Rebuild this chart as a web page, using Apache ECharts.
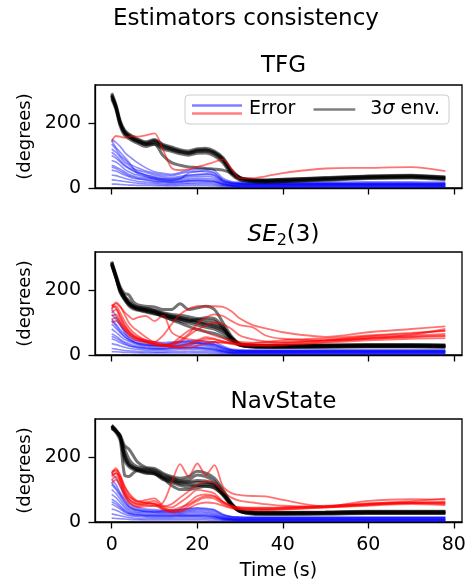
<!DOCTYPE html>
<html>
<head>
<meta charset="utf-8">
<script src="https://cdn.jsdelivr.net/npm/echarts@6/dist/echarts.min.js"></script>
<style>html,body{margin:0;padding:0;background:#fff}#c{width:471px;height:585px}</style>
</head>
<body>
<div id="c"></div>
<script>
// ---- data (time in s, values in degrees) ----
const T = [0,1,2,3,4,5,6,8,10,12,14,16,18,20,22,24,26,28,30,33,36,40,50,60,70,78];
const xTicks = [0,20,40,60,80];
const yTicks = [0,200];
const panelTitles = ['TFG', '{i|SE}{s|2}{n|(3)}', 'NavState'];

// TFG
const tfgEnvelope = [
 [285,250,200,172,160,152,146,136,143,128,120,112,108,115,116,108,88,50,30,24,23,25,30,35,37,32],
 [280,246,196,168,157,149,143,133,140,125,117,110,106,112,113,105,84,46,26,20,19,20,26,31,33,28],
 [292,257,207,178,166,158,152,142,149,134,126,118,114,121,122,114,94,56,33,26,25,27,32,37,39,34],
 [274,241,190,162,152,144,138,128,135,120,113,105,101,107,108,99,78,42,24,19,18,19,24,29,31,26],
 [288,252,202,175,163,155,148,139,146,131,122,114,110,117,118,110,90,52,31,25,24,26,31,36,38,33],
 [283,248,198,170,158,150,144,135,135,100,78,70,65,63,60,58,55,46,32,22,21,22,27,32,34,29]
];
const tfgBlue = [
 [150,140,128,110,98,88,78,62,50,45,42,48,55,58,60,55,30,20,18,17,17,17,18,19,19,18],
 [135,120,100,88,75,68,62,52,45,40,38,44,50,52,50,45,25,17,15,15,15,15,15,16,16,15],
 [120,110,95,80,70,60,55,48,40,35,32,36,40,42,44,40,22,15,14,13,13,13,14,14,14,14],
 [100,92,80,68,60,52,48,40,35,30,28,30,34,35,36,32,18,13,12,12,12,12,12,12,12,12],
 [85,80,70,58,50,44,40,34,30,26,24,26,28,30,30,27,15,11,10,10,10,10,10,10,10,10],
 [70,65,58,50,42,38,34,30,26,22,20,22,24,25,25,22,13,9,9,9,9,9,9,9,9,9],
 [55,52,46,40,35,30,28,24,20,18,16,18,20,21,20,18,11,8,7,7,7,7,8,8,8,7],
 [40,38,34,30,26,23,21,18,16,14,13,14,15,16,16,14,9,7,6,6,6,6,7,7,7,6],
 [25,24,22,20,18,16,15,13,12,10,10,11,12,12,12,10,7,5,5,5,5,5,5,5,5,5],
 [145,125,110,95,80,62,50,40,32,28,26,32,38,40,42,38,20,14,12,11,11,11,12,12,12,11],
 [110,100,85,72,62,55,45,36,28,24,22,28,46,50,54,48,24,16,13,12,12,12,13,13,13,13],
 [12,12,11,10,9,9,8,8,7,7,6,7,7,7,7,6,5,4,4,4,4,4,4,4,4,4],
 [65,60,52,45,38,34,30,26,22,19,18,19,22,23,22,20,12,8,3,3,3,3,3,3,3,3]
];
const tfgRed = [
 [143,160,158,155,158,160,158,162,168,118,62,55,58,65,72,80,88,58,30,30,36,46,60,62,64,52]
];

// SE2(3)
const se2Envelope = [
 [282,241,200,178,160,150,145,140,135,125,118,114,108,102,95,90,78,52,32,28,27,27,28,29,29,28],
 [288,248,210,190,185,165,155,150,148,140,140,158,140,145,150,140,100,58,35,30,29,29,30,31,31,30],
 [278,238,195,172,155,146,140,134,128,118,110,104,98,92,85,80,66,46,30,25,24,24,25,26,26,25],
 [280,240,198,175,158,148,142,136,130,120,108,98,88,78,72,66,56,42,30,26,25,25,26,27,27,26],
 [285,244,202,182,168,154,148,144,138,130,125,122,118,112,108,104,85,54,33,29,28,28,29,30,30,29],
 [276,236,192,170,152,142,138,132,126,122,115,110,104,110,115,112,88,50,31,27,26,26,27,28,28,27],
 [284,243,204,180,163,152,147,142,137,128,121,116,111,106,100,96,82,53,33,31,30,30,31,32,32,31],
 [279,239,198,176,158,148,143,138,132,123,116,111,105,99,92,86,74,50,31,24,23,23,24,25,25,24]
];
const se2Blue = [
 [125,110,90,75,62,55,50,45,40,38,40,42,44,45,42,40,28,18,16,15,15,15,16,16,16,16],
 [110,95,78,65,55,48,44,40,36,34,36,38,40,38,36,33,22,15,14,14,14,14,14,14,14,14],
 [95,82,68,56,48,42,38,34,30,30,32,34,36,35,32,28,18,13,12,12,12,12,12,12,12,12],
 [80,70,58,48,42,36,32,28,26,26,28,30,30,30,28,24,15,11,10,10,10,10,10,10,10,10],
 [65,58,48,40,35,30,27,24,22,22,24,25,26,25,23,20,13,10,9,9,9,9,9,9,9,9],
 [50,45,38,32,28,25,22,20,18,18,20,21,22,21,19,16,11,8,8,8,8,8,8,8,8,8],
 [35,32,28,24,21,19,17,15,14,14,15,16,17,16,15,13,9,7,7,7,7,7,7,7,7,7],
 [20,18,16,14,13,12,11,10,9,9,10,10,11,10,10,9,7,6,6,6,6,6,6,6,6,6],
 [140,120,95,70,52,42,36,32,30,28,26,30,34,36,34,30,20,14,12,11,11,11,12,12,12,12],
 [105,90,72,58,46,40,35,30,28,30,36,40,42,40,38,34,24,16,13,13,13,13,13,13,13,13],
 [10,10,9,8,8,7,7,6,6,6,6,6,6,6,6,5,4,4,4,4,4,4,4,4,4,4],
 [58,52,44,36,30,26,24,21,19,19,21,22,23,22,20,17,11,7,3,3,3,3,3,3,3,3]
];
const se2Red = [
 [140,162,150,125,100,85,75,55,40,60,95,125,142,150,150,150,148,135,112,92,82,70,56,70,80,88],
 [150,158,148,132,120,110,115,120,104,122,70,55,48,45,42,40,38,36,35,36,38,40,46,58,66,74],
 [145,150,130,105,85,70,60,45,35,30,35,55,75,82,70,60,52,45,40,38,40,45,52,60,68,75],
 [130,140,120,95,75,62,55,45,40,35,28,25,30,40,50,48,42,36,32,30,32,36,45,55,60,65],
 [120,125,105,85,70,58,50,42,35,30,25,22,22,28,35,40,38,34,30,28,28,30,40,50,56,60],
 [155,145,115,90,72,60,52,40,32,28,26,28,35,45,55,50,42,38,34,32,30,32,38,45,50,52],
 [110,115,100,80,62,50,44,38,32,28,30,40,60,78,90,100,95,80,60,48,42,38,44,52,62,80],
 [100,105,95,78,65,55,48,40,34,30,32,45,65,95,115,125,120,105,92,85,60,50,45,50,55,58]
];

// NavState
const navEnvelope = [
 [296,282,264,210,182,170,165,160,156,140,132,125,124,128,126,118,90,55,34,29,28,28,29,31,31,31],
 [292,280,268,235,225,205,185,168,165,150,140,135,140,156,150,135,100,58,36,31,30,30,31,33,33,33],
 [290,276,250,145,140,150,158,152,148,135,112,100,100,105,110,105,82,50,33,26,25,25,26,28,28,28],
 [298,284,262,200,175,166,160,155,150,134,125,118,115,112,110,105,84,52,32,27,26,26,27,28,28,28],
 [294,280,258,190,170,162,158,150,148,130,122,112,108,112,116,112,86,54,33,28,27,27,28,29,29,29],
 [288,278,260,225,195,178,170,165,160,146,136,128,130,145,140,125,94,56,35,30,29,29,30,32,32,32],
 [295,281,262,205,178,168,163,158,153,138,129,121,120,122,121,114,88,53,33,24,23,23,24,26,26,26]
];
const navBlue = [
 [150,135,110,85,62,50,45,40,38,36,35,38,40,42,40,36,22,17,16,15,15,15,15,15,15,15],
 [130,115,90,70,52,44,40,36,34,32,32,34,36,38,36,32,20,15,14,13,13,13,13,13,13,13],
 [115,100,80,60,46,40,36,33,30,30,30,31,33,34,32,28,17,13,12,12,12,12,12,12,12,12],
 [100,88,70,52,40,35,32,30,28,27,27,28,30,30,28,24,15,11,10,10,10,10,10,10,10,10],
 [85,75,60,45,35,30,28,26,24,24,24,25,26,26,24,21,13,10,9,9,9,9,9,9,9,9],
 [70,62,50,38,30,26,24,22,21,21,21,22,22,22,21,18,11,9,8,8,8,8,8,8,8,8],
 [55,48,40,30,25,22,20,18,17,17,17,18,18,18,17,15,10,8,7,7,7,7,7,7,7,7],
 [40,36,30,24,20,18,16,15,14,14,14,15,15,15,14,12,8,7,6,6,6,6,6,6,6,6],
 [25,22,19,16,14,12,11,10,10,10,10,10,10,10,10,9,6,5,5,5,5,5,5,5,5,5],
 [12,11,10,9,8,7,7,6,6,6,6,6,6,6,6,5,4,4,4,4,4,4,4,4,4,4],
 [120,105,85,64,48,40,36,32,32,34,36,38,42,44,42,38,24,16,14,14,14,14,14,14,14,14],
 [62,55,45,34,27,24,22,20,19,19,19,20,20,20,19,16,10,7,3,3,3,3,3,3,3,3]
];
const navRed = [
 [150,158,125,90,70,60,56,52,50,60,120,178,140,180,145,175,110,89,83,80,79,68,48,65,70,69],
 [151,166,140,100,79,70,63,68,73,50,45,60,79,99,95,88,63,50,45,44,44,45,50,58,60,60],
 [140,150,130,95,72,62,55,60,65,45,35,40,60,80,85,80,60,48,42,40,40,42,48,55,60,62],
 [130,140,120,85,65,55,50,55,58,40,32,35,50,65,75,72,55,45,40,38,38,40,45,52,58,55],
 [120,130,110,78,58,50,46,48,50,38,30,32,42,55,60,58,50,42,38,37,37,38,44,50,55,52],
 [145,150,138,110,90,75,65,60,55,48,55,75,95,115,125,120,95,75,65,60,55,50,46,56,64,72],
 [155,160,145,110,85,70,62,58,55,42,38,45,55,70,80,78,62,50,45,43,43,44,48,54,58,58]
];

// ---- chart ----
const FONT = 'DejaVu Sans';
const panels = [
  {env: tfgEnvelope, blue: tfgBlue, red: tfgRed},
  {env: se2Envelope, blue: se2Blue, red: se2Red},
  {env: navEnvelope, blue: navBlue, red: navRed}
];
const gridTops = [85, 252, 419];
const GH = 103;

const pairs = v => T.map((t, i) => [t, v[i]]);
const series = [];
panels.forEach((p, k) => {
  p.blue.forEach((v, j) => series.push({
    type: 'line', name: (k === 0 && j === 0) ? 'Error' : undefined,
    xAxisIndex: k, yAxisIndex: k, data: pairs(v), symbol: 'none', smooth: 0.15,
    lineStyle: {color: '#0000ff', width: 1.6, opacity: 0.45}, z: 2, silent: true, animation: false
  }));
  p.env.forEach((v, j) => series.push({
    type: 'line', name: (k === 0 && j === 0) ? '3σ env.' : undefined,
    xAxisIndex: k, yAxisIndex: k, data: pairs(v), symbol: 'none', smooth: 0.3,
    lineStyle: {color: '#000000', width: 3, opacity: 0.55}, z: 3, silent: true, animation: false
  }));
  p.red.forEach(v => series.push({
    type: 'line', xAxisIndex: k, yAxisIndex: k, data: pairs(v), symbol: 'none', smooth: 0.3,
    lineStyle: {color: '#ff0000', width: 1.8, opacity: 0.55}, z: 4, silent: true, animation: false
  }));
});

const svgIcon = s => 'image://data:image/svg+xml;charset=utf-8,' + encodeURIComponent(s);
const errIcon = svgIcon('<svg xmlns="http://www.w3.org/2000/svg" width="52" height="14">' +
  '<line x1="0" y1="3" x2="50" y2="3" stroke="#0000ff" stroke-opacity="0.5" stroke-width="2.6"/>' +
  '<line x1="0" y1="11" x2="50" y2="11" stroke="#ff0000" stroke-opacity="0.5" stroke-width="2.6"/></svg>');
const envIcon = svgIcon('<svg xmlns="http://www.w3.org/2000/svg" width="52" height="14">' +
  '<line x1="0" y1="7" x2="42" y2="7" stroke="#000000" stroke-opacity="0.5" stroke-width="2.6"/></svg>');

const grids = gridTops.map(t => ({left: 95, right: 9, top: t, height: GH, show: true,
  borderColor: '#000', borderWidth: 1.3, backgroundColor: 'transparent', containLabel: false}));

const xAxes = gridTops.map((t, k) => ({
  type: 'value', gridIndex: k, min: -3.9, max: 81.9,
  name: k === 2 ? 'Time (s)' : '', nameLocation: 'middle', nameGap: 40,
  nameTextStyle: {fontFamily: FONT, fontSize: 19, color: '#000'},
  axisLine: {show: true, onZero: false, lineStyle: {color: '#000', width: 1.3}},
  axisTick: {show: true, inside: false, length: 6.5, lineStyle: {color: '#000', width: 1.3}, customValues: xTicks},
  axisLabel: {show: k === 2, customValues: xTicks, margin: 14, fontFamily: FONT, fontSize: 19, color: '#000'},
  splitLine: {show: false}
}));
const yAxes = gridTops.map((t, k) => ({
  type: 'value', gridIndex: k, min: 0, max: 317,
  name: '(degrees)', nameLocation: 'middle', nameGap: 54, nameRotate: 90,
  nameTextStyle: {fontFamily: FONT, fontSize: 18, color: '#000'},
  axisLine: {show: true, onZero: false, lineStyle: {color: '#000', width: 1.3}},
  axisTick: {show: true, inside: false, length: 6.5, lineStyle: {color: '#000', width: 1.3}, customValues: yTicks},
  axisLabel: {show: true, customValues: yTicks, margin: 14, fontFamily: FONT, fontSize: 19, color: '#000'},
  splitLine: {show: false}
}));

const titleTops = [47, 216, 383];
const titles = [{
  text: 'Estimators consistency', left: 241, top: 0, textAlign: 'center',
  textStyle: {fontFamily: FONT, fontSize: 23, fontWeight: 'normal', color: '#000', lineHeight: 28}
}].concat(panelTitles.map((txt, k) => ({
  text: txt, left: 278.5, top: titleTops[k], textAlign: 'center',
  textStyle: {fontFamily: FONT, fontSize: 23, fontWeight: 'normal', color: '#000', lineHeight: 28,
    rich: {
      i: {fontFamily: FONT, fontSize: 23, fontStyle: 'italic', color: '#000', lineHeight: 28},
      s: {fontFamily: FONT, fontSize: 16, color: '#000', lineHeight: 12, verticalAlign: 'bottom'},
      n: {fontFamily: FONT, fontSize: 23, color: '#000', lineHeight: 28}
    }}
})));

const chart = echarts.init(document.getElementById('c'), null, {renderer: 'canvas'});
chart.setOption({
  animation: false,
  backgroundColor: '#fff',
  title: titles,
  grid: grids,
  xAxis: xAxes,
  yAxis: yAxes,
  legend: {
    left: 185, top: 95, orient: 'horizontal',
    padding: [5, 9, 5, 7], itemGap: 18, itemWidth: 52, itemHeight: 14,
    backgroundColor: 'rgba(255,255,255,0.8)', borderColor: '#cccccc', borderWidth: 1, borderRadius: 4,
    selectedMode: false,
    data: [{name: 'Error', icon: errIcon}, {name: '3σ env.', icon: envIcon}],
    formatter: n => n === '3σ env.' ? '3{i|σ} env.' : n,
    textStyle: {fontFamily: FONT, fontSize: 19, color: '#000',
      rich: {i: {fontFamily: FONT, fontSize: 19, fontStyle: 'italic', color: '#000'}}}
  },
  series: series
});
</script>
</body>
</html>
